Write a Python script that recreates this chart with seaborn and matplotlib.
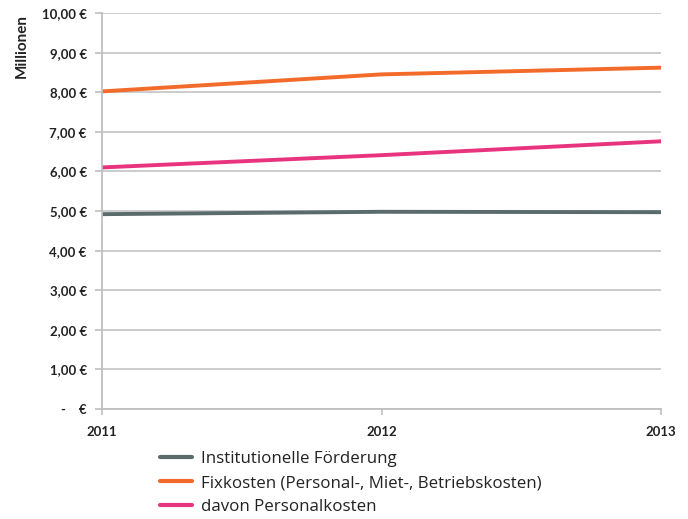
import matplotlib
matplotlib.use("Agg")
import matplotlib.pyplot as plt
import seaborn as sns
import pandas as pd
from matplotlib.ticker import FuncFormatter

years = [2011, 2012, 2013]
institutionelle = [4.92, 4.98, 4.97]
fixkosten = [8.02, 8.45, 8.62]
personalkosten = [6.10, 6.41, 6.76]
series_names = ["Institutionelle Förderung",
                "Fixkosten (Personal-, Miet-, Betriebskosten)",
                "davon Personalkosten"]
colors = ["#5b6b6b", "#f26b2b", "#e8347f"]
y_ticks = [0, 1, 2, 3, 4, 5, 6, 7, 8, 9, 10]

sns.set_style("white")
plt.rcParams['font.family'] = ['Lato', 'DejaVu Sans']

df = pd.DataFrame({
    "Jahr": years * 3,
    "Wert": institutionelle + fixkosten + personalkosten,
    "Serie": [series_names[0]] * 3 + [series_names[1]] * 3 + [series_names[2]] * 3,
})

fig = plt.figure(figsize=(6.88, 5.19), dpi=100)
ax = fig.add_axes([102/688, 110/519, (661-102)/688, (409-13)/519])

sns.lineplot(data=df, x="Jahr", y="Wert", hue="Serie", palette=colors,
             hue_order=series_names, linewidth=2.8, ax=ax, legend=True)

ax.set_xlim(2011, 2013)
ax.set_ylim(0, 10)
ax.set_yticks(y_ticks)
ax.set_xticks(years)
ax.set_xticklabels([str(y) for y in years])

def fmt(v, pos):
    if abs(v) < 1e-9:
        return "-    €"
    return f"{v:.2f} €".replace(".", ",")
ax.yaxis.set_major_formatter(FuncFormatter(fmt))

ax.grid(axis="y", color="#c8c8c8", linewidth=1.3)
ax.grid(axis="x", visible=False)
ax.set_axisbelow(True)
for s in ["top", "right"]:
    ax.spines[s].set_visible(False)
for s in ["left", "bottom"]:
    ax.spines[s].set_color("#bfbfbf")
    ax.spines[s].set_linewidth(1.3)

ax.tick_params(axis="y", which="major", left=True, length=5, width=1.2,
               color="#bfbfbf", labelsize=9.5, pad=6)
ax.tick_params(axis="x", which="major", bottom=True, length=4, width=1.2,
               color="#bfbfbf", labelsize=9.5, pad=8)
for lbl in ax.get_yticklabels() + ax.get_xticklabels():
    lbl.set_fontweight("bold")
    lbl.set_color("#222222")

ax.set_xlabel("")
ax.set_ylabel("")
fig.text(22/688, 1 - 46/519, "Millionen", rotation=90, ha="center", va="center",
         fontsize=11, fontweight="bold", color="#222222")

leg = ax.legend(loc="upper left", bbox_to_anchor=(160/688, 1 - 451/519),
                bbox_transform=fig.transFigure, frameon=False,
                prop={"family": ["Open Sans", "DejaVu Sans"], "size": 12.2},
                handlelength=1.9, handletextpad=0.5, labelspacing=0.48,
                borderpad=0, borderaxespad=0)
for line in leg.get_lines():
    line.set_linewidth(3.0)
for t in leg.get_texts():
    t.set_color("#222222")

fig.savefig("out.png", dpi=100)
